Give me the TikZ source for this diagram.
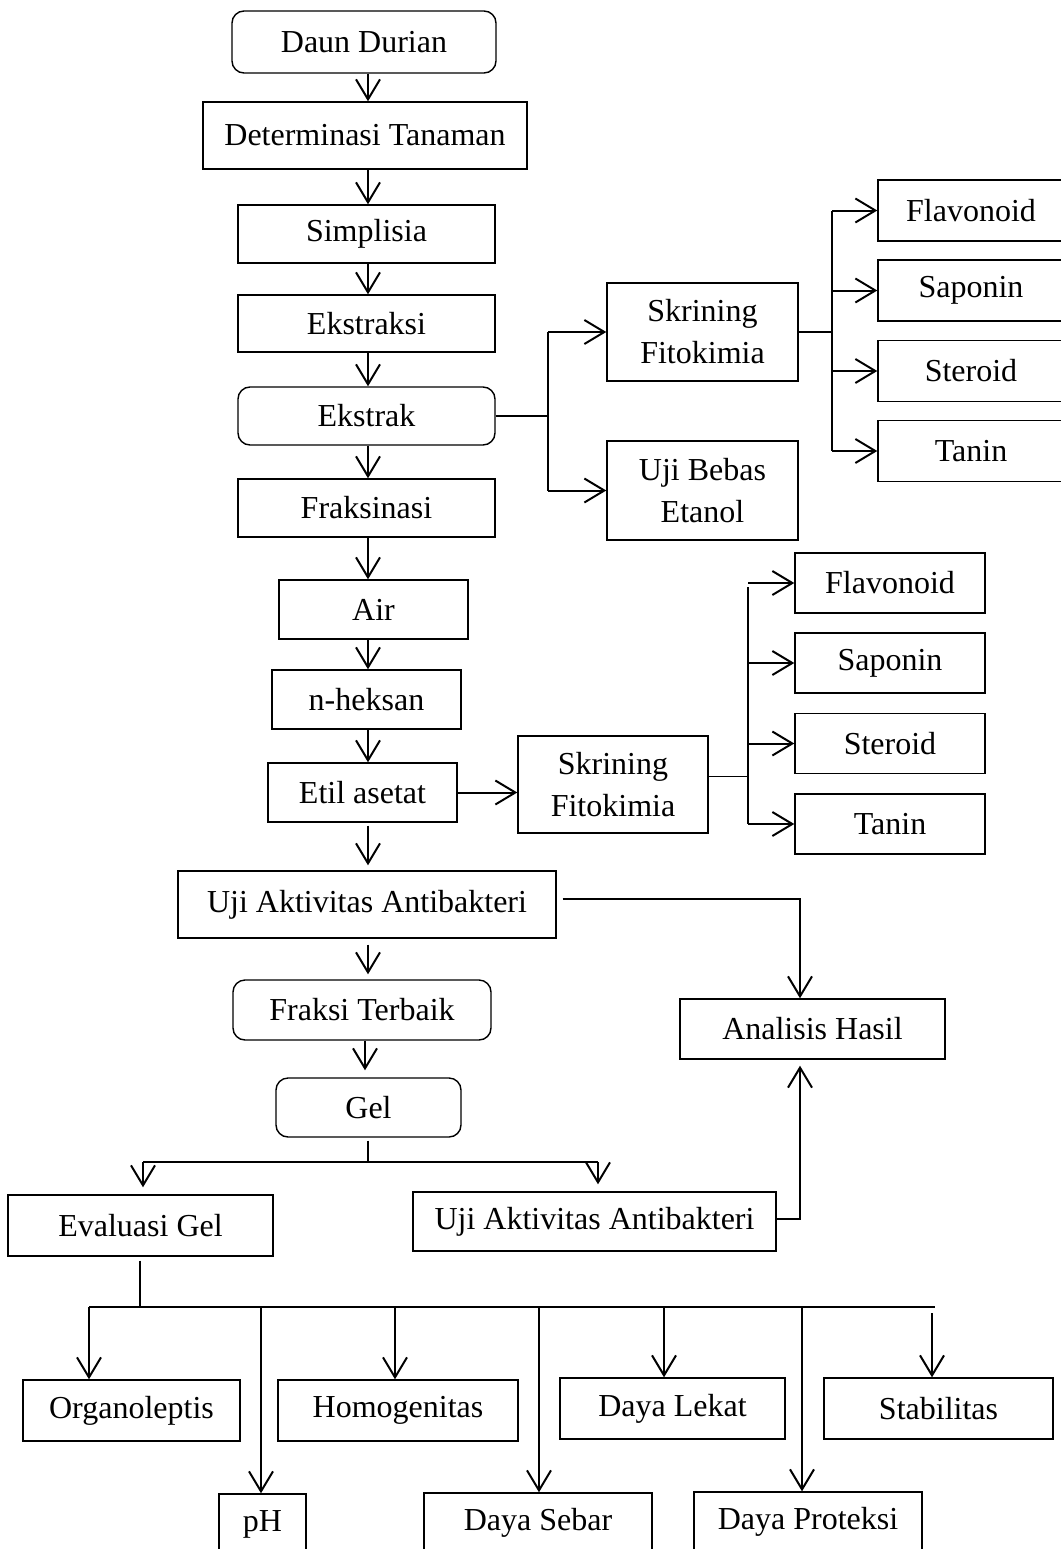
\documentclass[tikz,border=0pt]{standalone}
\usepackage{fontspec}
\setmainfont{Liberation Serif}
\usetikzlibrary{arrows.meta}
\tikzset{
  box/.style={draw, line width=1.4pt, inner sep=0pt, align=center,
    font=\fontsize{32}{42}\selectfont},
  rbox/.style={box, rounded corners=12pt},
  arr/.style={line width=2pt, -{Straight Barb[length=20pt,width=24pt,line width=2pt]}},
  ln/.style={line width=1.3pt},
}
\begin{document}
\begin{tikzpicture}[x=1pt,y=-1pt]
\useasboundingbox (0,0) rectangle (1060,1549);
% main column
\node[rbox, minimum width=264, minimum height=62] (daun) at (364,42) {Daun Durian};
\node[box, minimum width=324, minimum height=67] (det) at (365,135.5) {Determinasi Tanaman};
\node[box, minimum width=257, minimum height=58] (simp) at (366.5,234) {Simplisia};
\node[box, minimum width=257, minimum height=57] (eksi) at (366.5,323.5) {Ekstraksi};
\node[rbox, minimum width=257, minimum height=58] (ekst) at (366.5,416) {Ekstrak};
\node[box, minimum width=257, minimum height=58] (frak) at (366.5,508) {Fraksinasi};
\node[box, minimum width=189, minimum height=59] (air) at (373.5,609.5) {Air};
\node[box, minimum width=189, minimum height=59] (nhek) at (366.5,699.5) {n-heksan};
\node[box, minimum width=189, minimum height=59] (etil) at (362.5,792.5) {Etil asetat};
\node[box, minimum width=378, minimum height=67] (ujitop) at (367,904.5) {Uji Aktivitas Antibakteri};
\node[rbox, minimum width=258, minimum height=60] (fraksi) at (362,1010) {Fraksi Terbaik};
\node[rbox, minimum width=185, minimum height=59] (gel) at (368.5,1107.5) {Gel};
\node[box, minimum width=265, minimum height=61] (eval) at (140.5,1225.5) {Evaluasi Gel};
\node[box, minimum width=363, minimum height=59] (ujibot) at (594.5,1221.5) {Uji Aktivitas Antibakteri};
\node[box, minimum width=265, minimum height=60] (anal) at (812.5,1029) {Analisis Hasil};
% top screening
\node[box, minimum width=191, minimum height=98] (skrtop) at (702.5,332) {Skrining\\Fitokimia};
\node[box, minimum width=191, minimum height=99] (bebas) at (702.5,490.5) {Uji Bebas\\Etanol};
\node[box, minimum width=186, minimum height=61] (flav1) at (971,210.5) {Flavonoid};
\node[box, minimum width=186, minimum height=61] (sap1) at (971,290.5) {Saponin};
\node[box, minimum width=186, minimum height=61] (ster1) at (971,371) {Steroid};
\node[box, minimum width=186, minimum height=61] (tan1) at (971,451) {Tanin};
% middle screening
\node[box, minimum width=190, minimum height=97] (skrmid) at (613,784.5) {Skrining\\Fitokimia};
\node[box, minimum width=190, minimum height=60] (flav2) at (890,583) {Flavonoid};
\node[box, minimum width=190, minimum height=60] (sap2) at (890,663) {Saponin};
\node[box, minimum width=190, minimum height=60] (ster2) at (890,743.5) {Steroid};
\node[box, minimum width=190, minimum height=60] (tan2) at (890,824) {Tanin};
% evaluation
\node[box, minimum width=217, minimum height=61] (org) at (131.5,1410.5) {Organoleptis};
\node[box, minimum width=240, minimum height=61] (hom) at (398,1410.5) {Homogenitas};
\node[box, minimum width=225, minimum height=61] (lek) at (672.5,1408.5) {Daya Lekat};
\node[box, minimum width=229, minimum height=61] (stab) at (938.5,1408.5) {Stabilitas};
\node[box, minimum width=87, minimum height=60] (ph) at (262.5,1524) {pH};
\node[box, minimum width=228, minimum height=60] (seb) at (538,1523) {Daya Sebar};
\node[box, minimum width=228, minimum height=60] (prot) at (808,1522) {Daya Proteksi};
% helper coordinates
\coordinate (cx) at (368,0);
\coordinate (b1) at (548,0);
\coordinate (b2) at (832,0);
\coordinate (b3) at (748,0);
\coordinate (b4) at (800,0);
% main arrows
\draw[arr] (daun.south -| cx) -- (det.north -| cx);
\draw[arr] (det.south -| cx) -- (simp.north -| cx);
\draw[arr] (simp.south -| cx) -- (eksi.north -| cx);
\draw[arr] (eksi.south -| cx) -- (ekst.north -| cx);
\draw[arr] (ekst.south -| cx) -- (frak.north -| cx);
\draw[arr] (frak.south -| cx) -- (air.north -| cx);
\draw[arr] (air.south -| cx) -- (nhek.north -| cx);
\draw[arr] (nhek.south -| cx) -- (etil.north -| cx);
\draw[arr, shorten <=3pt, shorten >=5pt] (etil.south -| cx) -- (ujitop.north -| cx);
\draw[arr, shorten <=6pt, shorten >=5pt] (ujitop.south -| cx) -- (fraksi.north -| cx);
\draw[arr, shorten >=7pt] (fraksi.south -| 365,0) -- (gel.north -| 365,0);
% ekstrak branch
\draw[ln] (ekst.east) -- (ekst.east -| b1);
\draw[ln] (skrtop.west -| b1) -- (bebas.west -| b1);
\draw[arr] (skrtop.west -| b1) -- (skrtop.west);
\draw[arr] (bebas.west -| b1) -- (bebas.west);
% top screening branch
\draw[ln] (skrtop.east) -- (skrtop.east -| b2);
\draw[ln] (flav1.west -| b2) -- (tan1.west -| b2);
\foreach \n in {flav1,sap1,ster1,tan1} \draw[arr] (\n.west -| b2) -- (\n.west);
% etil to middle screening
\draw[arr] (etil.east) -- (etil.east -| skrmid.west);
\draw[ln] ([yshift=8pt]skrmid.east) -- ([yshift=8pt]skrmid.east -| b3);
\draw[ln] ([yshift=-4pt]flav2.west -| b3) -- (tan2.west -| b3);
\foreach \n in {flav2,sap2,ster2,tan2} \draw[arr] (\n.west -| b3) -- (\n.west);
% to analisis
\draw[arr] ([shift={(6pt,6pt)}]ujitop.east) -| (b4 |- anal.north);
\draw[arr] ([yshift=3pt]ujibot.east) -| ([yshift=-6pt]b4 |- anal.south);
% gel split
\coordinate (g) at (368,1162);
\draw[ln] ([yshift=-3pt]gel.south -| g) -- (g);
\draw[ln] (143,1162) coordinate (g1) -- (598,1162) coordinate (g2);
\draw[arr, shorten >=7pt] (g1) -- (g1 |- eval.north);
\draw[arr, shorten >=7pt] (g2) -- (g2 |- ujibot.north);
% evaluation split
\coordinate (e) at (140,1307);
\draw[ln] ([yshift=-4pt]eval.south -| e) -- (e);
\draw[ln] (89,1307) -- (935,1307);
\draw[arr] (89,1307) -- (89,0 |- org.north);
\draw[arr] (261,1307) -- (261,0 |- ph.north);
\draw[arr] (395,1307) -- (395,0 |- hom.north);
\draw[arr] (539,1307) -- (539,0 |- seb.north);
\draw[arr] (664,1307) -- (664,0 |- lek.north);
\draw[arr] (802,1307) -- (802,0 |- prot.north);
\draw[arr] (932,1313) -- (932,0 |- stab.north);
\end{tikzpicture}
\end{document}
